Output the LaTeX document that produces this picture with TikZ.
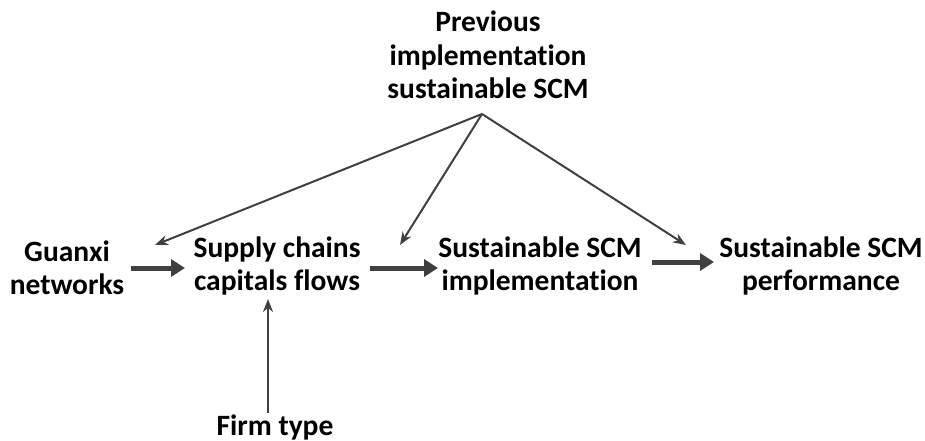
\documentclass[tikz,border=0pt]{standalone}
\usepackage{fontspec}
\setmainfont{Carlito}[Ligatures=NoCommon]
\usetikzlibrary{arrows.meta}
\definecolor{arrowgray}{HTML}{404040}
\tikzset{
  lbl/.style={font=\fontsize{29.5}{33.5}\selectfont\bfseries, align=center, inner sep=0pt, text=black},
  thin/.style={draw=arrowgray, line width=2pt, -{Stealth[length=13pt,width=10pt]}},
  thick/.style={draw=arrowgray, line width=5pt, -{Triangle[length=14pt,width=17pt]}}
}
\begin{document}
\begin{tikzpicture}[x=1pt,y=-1pt]
  \useasboundingbox (0,0) rectangle (925,441);
  \node[lbl] (prev) at (488,55) {Previous\\implementation\\sustainable SCM};
  \node[lbl] (guanxi) at (67,268) {Guanxi\\networks};
  \node[lbl] (supply) at (277,266) {Supply chains\\capitals flows};
  \node[lbl] (impl) at (540,266) {Sustainable SCM\\implementation};
  \node[lbl] (perf) at (821,266) {Sustainable SCM\\performance};
  \node[lbl] (firm) at (275,427) {Firm type};

  % three influences fanning out from below the top label
  \coordinate (hub) at (482,114);
  \coordinate (tipG) at (155,245);
  \coordinate (tipI) at (400,245);
  \coordinate (tipP) at (686,245);
  \draw[thin] (hub) -- (tipG);
  \draw[thin] (hub) -- (tipI);
  \draw[thin] (hub) -- (tipP);

  % main causal chain
  \coordinate (g0) at (131,268);
  \coordinate (g1) at (185,268);
  \coordinate (s0) at (370,268);
  \coordinate (s1) at (438,268);
  \coordinate (i0) at (652,262);
  \coordinate (i1) at (714,262);
  \draw[thick] (g0) -- (g1);
  \draw[thick] (s0) -- (s1);
  \draw[thick] (i0) -- (i1);

  % moderator
  \coordinate (f0) at (268,413);
  \coordinate (f1) at (268,299);
  \draw[thin] (f0) -- (f1);
\end{tikzpicture}
\end{document}
